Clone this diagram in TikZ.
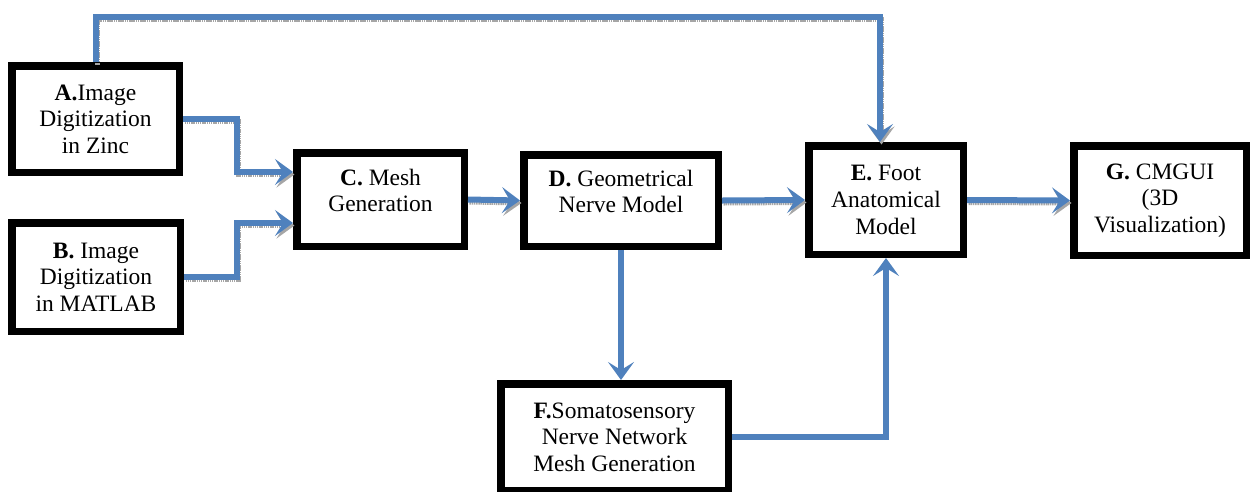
\documentclass[tikz,border=0pt]{standalone}
\usepackage{fontspec}
\setmainfont{Liberation Serif}
\usetikzlibrary{arrows.meta,calc}
\definecolor{conblue}{HTML}{4F81BD}
\tikzset{
  blk/.style={draw=black, line width=7.5pt, fill=white, align=center, inner sep=0pt,
    font=\fontsize{23.5}{26.6}\selectfont},
  tip/.style={-{Stealth[length=18pt,width=26pt,inset=8pt]}},
  conn/.style={draw=conblue, line width=6pt, tip,
    preaction={draw=gray!70, line width=5pt, dash pattern=on 1.5pt off 0.7pt,
      transform canvas={shift={(1.5pt,-2.5pt)}}}},
  connflat/.style={draw=conblue, line width=6pt, tip}
}
\begin{document}
\begin{tikzpicture}[x=1pt,y=1pt]
\useasboundingbox (0,0) rectangle (1252,-491);
\node[blk, minimum width=167.5pt, minimum height=106.5pt] (A) at (95.5,-119) {\textbf{A.}Image\\Digitization\\in Zinc};
\node[blk, minimum width=168.5pt, minimum height=108.5pt] (B) at (96,-277) {\textbf{B.} Image\\Digitization\\in MATLAB};
\node[blk, minimum width=167.5pt, minimum height=93.5pt, text depth=18pt] (C) at (380.5,-199.5) {\textbf{C.} Mesh\\Generation};
\node[blk, minimum width=194.5pt, minimum height=91.5pt, text depth=18pt] (D) at (621,-200.5) {\textbf{D.} Geometrical\\Nerve Model};
\node[blk, minimum width=154.5pt, minimum height=108.5pt] (E) at (886,-200) {\textbf{E.} Foot\\Anatomical\\Model};
\node[blk, minimum width=172.5pt, minimum height=109.5pt] (G) at (1160,-200.5) {\textbf{G.} CMGUI\\(3D\\Visualization)};
\node[blk, minimum width=227.5pt, minimum height=106.5pt] (F) at (614.5,-437) {\textbf{F.}Somatosensory\\Nerve Network\\Mesh Generation};
\coordinate (top) at (0,-17);
\coordinate (xmid) at (237,0);
\coordinate (tA) at ($(C.west)+(0,27.5)$);
\coordinate (tB) at ($(C.west)+(0,-23.5)$);
\coordinate (tE) at ($(E.north)+(-6,0)$);
% connectors
\draw[conn] (A.north) |- (top -| tE) -- (tE);
\draw[conn] (A.east) -| (tA -| xmid) -- (tA);
\draw[conn] (B.east) -| (tB -| xmid) -- (tB);
\draw[conn] (C.east) -- (D.west);
\draw[conn] (D.east) -- (E.west);
\draw[conn] (E.east) -- (G.west);
\draw[connflat] (D.south) -- (D.south |- F.north);
\draw[connflat] (F.east) -| (E.south);
\end{tikzpicture}
\end{document}
